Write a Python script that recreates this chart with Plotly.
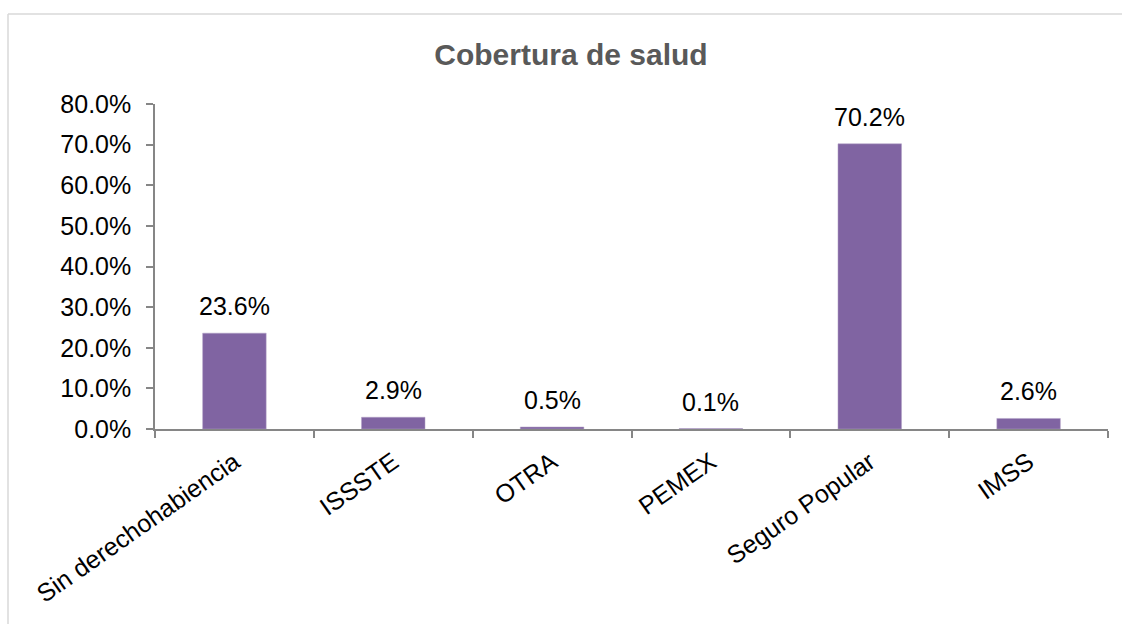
import plotly.graph_objects as go

categories = ["Sin derechohabiencia", "ISSSTE", "OTRA", "PEMEX", "Seguro Popular", "IMSS"]
values = [0.236, 0.029, 0.005, 0.001, 0.702, 0.026]
y_ticks = [0, 0.1, 0.2, 0.3, 0.4, 0.5, 0.6, 0.7, 0.8]

W, H = 1122, 624
L, R, T, B = 155, 14, 104, 195
FONT = "Liberation Sans, Arial"
FS = 25

fig = go.Figure()
fig.add_trace(go.Bar(
    x=categories, y=values,
    marker=dict(color="#8064A2", line=dict(color="#B3A2C7", width=0.5)),
    hoverinfo="x+y",
))

for c, v in zip(categories, values):
    fig.add_annotation(x=c, y=v, text=f"{v*100:.1f}%", showarrow=False,
                       xanchor="center", yanchor="bottom", yshift=11,
                       font=dict(family=FONT, size=FS, color="#000000"))

fig.update_layout(
    width=W, height=H,
    margin=dict(l=L, r=R, t=T, b=B, autoexpand=False),
    paper_bgcolor="white", plot_bgcolor="white",
    bargap=0.6,
    showlegend=False,
    title=dict(text="<b>Cobertura de salud</b>", x=571 / W, xanchor="center",
               y=1 - 54 / H, yanchor="middle",
               font=dict(family=FONT, size=30, color="#595959")),
    font=dict(family=FONT, size=FS, color="#000000"),
)
fig.update_xaxes(
    showline=True, linecolor="#868686", linewidth=1.5,
    ticks="outside", tickson="boundaries", ticklen=7, tickcolor="#868686", tickwidth=1.5,
    tickangle=-35, showgrid=False, ticklabelstandoff=7,
    tickfont=dict(family=FONT, size=FS, color="#000000"),
)
fig.update_yaxes(
    range=[0, 0.8], tickvals=y_ticks, tickformat=".1%",
    showline=True, linecolor="#868686", linewidth=1.5,
    ticks="outside", ticklen=7, tickcolor="#868686", tickwidth=1.5,
    showgrid=False, zeroline=False, ticklabelstandoff=10,
    tickfont=dict(family=FONT, size=FS, color="#000000"),
)

# outer chart frame (top and left edges visible)
fx0 = (8 - L) / (W - L - R)
fx1 = (1122 - L) / (W - L - R)
fy_top = 1 + (T - 14) / (H - T - B)
fy_bot = -B / (H - T - B)
fig.add_shape(type="line", xref="paper", yref="paper", x0=fx0, x1=fx1, y0=fy_top, y1=fy_top,
              line=dict(color="#D9D9D9", width=1.5))
fig.add_shape(type="line", xref="paper", yref="paper", x0=fx0, x1=fx0, y0=fy_top, y1=fy_bot,
              line=dict(color="#D9D9D9", width=1.5))

fig.write_html("out.html", config={"displayModeBar": False},
               post_script="document.body.style.margin='0';")
